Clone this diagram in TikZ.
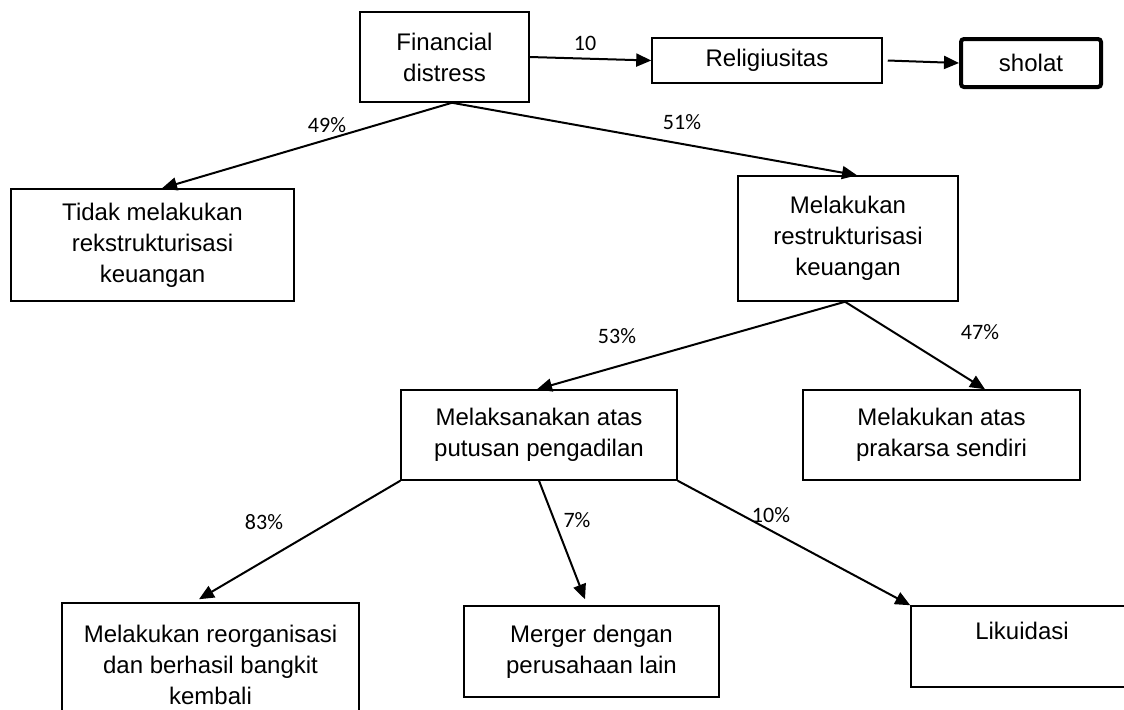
\documentclass[tikz,border=0pt]{standalone}
\usepackage{fontspec}
\setmainfont{Liberation Sans}
\newfontfamily\pctfont{Carlito}
\usetikzlibrary{arrows.meta,positioning}

\begin{document}
\begin{tikzpicture}[x=0.5pt,y=-0.5pt,>={Triangle[length=7.5pt,width=6.5pt]},
    box/.style={draw,line width=0.75pt,align=center,inner sep=0pt,
      font=\fontsize{12}{15.5}\selectfont},
    arr/.style={->,line width=1pt},
    pct/.style={inner sep=0pt,font=\pctfont\fontsize{11}{13}\selectfont}]
        \useasboundingbox (0,0) rectangle (1124,709);

        \node[box,minimum width=84.5pt,minimum height=45pt] (fin) at (444.5,57) {Financial\\distress};
        \node[box,minimum width=115pt,minimum height=22.5pt] (relig) at (767,60.5) {Religiusitas};
        \node[box,line width=2pt,rounded corners=1.5pt,minimum width=70pt,minimum height=24pt] (sholat) at (1031,63) {sholat};
        \node[box,minimum width=141.5pt,minimum height=56pt] (tidak) at (152.5,245) {Tidak melakukan\\rekstrukturisasi\\keuangan};
        \node[box,minimum width=110pt,minimum height=62.5pt] (restr) at (848,238.5) {Melakukan\\restrukturisasi\\keuangan};
        \node[box,minimum width=138pt,minimum height=45pt] (laks) at (539,435) {Melaksanakan atas\\putusan pengadilan};
        \node[box,minimum width=138.5pt,minimum height=45pt] (prak) at (941.5,435) {Melakukan atas\\prakarsa sendiri};
        \node[box,minimum width=148.5pt,minimum height=62pt,yshift=1.5pt] (reorg) at (210.5,668) {Melakukan reorganisasi\\dan berhasil bangkit\\kembali};
        \node[box,minimum width=127.5pt,minimum height=45.5pt] (merger) at (591.5,651.5) {Merger dengan\\perusahaan lain};
        \node[box,minimum width=111pt,minimum height=40.5pt] (likuid) at (1022,646.5) {Likuidasi\\\mbox{}};

        \draw[arr] (fin.east) -- (relig.west);
        \draw[arr] ([xshift=2.5pt]relig.east) -- (sholat.west);
        \draw[arr] ([xshift=3.75pt]fin.south) -- ([xshift=4.75pt]tidak.north);
        \draw[arr] ([xshift=3.75pt]fin.south) -- ([xshift=4.5pt]restr.north);
        \draw[arr] ([xshift=-1.5pt]restr.south) -- ([xshift=-1pt]laks.north);
        \draw[arr] ([xshift=-1.5pt]restr.south) -- ([xshift=21.75pt]prak.north);
        \draw[arr] (laks.south west) -- ([xshift=-5.75pt,yshift=1.5pt]reorg.north);
        \draw[arr] (laks.south) -- ([xshift=-3.25pt,yshift=3pt]merger.north);
        \draw[arr] (laks.south east) -- (likuid.north west);

        \node[pct] (p10) at (585,43) {10};
        \node[pct] (p49) at (327,125) {49\%};
        \node[pct] (p51) at (682,122) {51\%};
        \node[pct] (p53) at (617,336) {53\%};
        \node[pct] (p47) at (980,332) {47\%};
        \node[pct] (p83) at (264,522) {83\%};
        \node[pct] (p7) at (577,520) {7\%};
        \node[pct] (p10b) at (771,515) {10\%};
      \end{tikzpicture}
\end{document}
